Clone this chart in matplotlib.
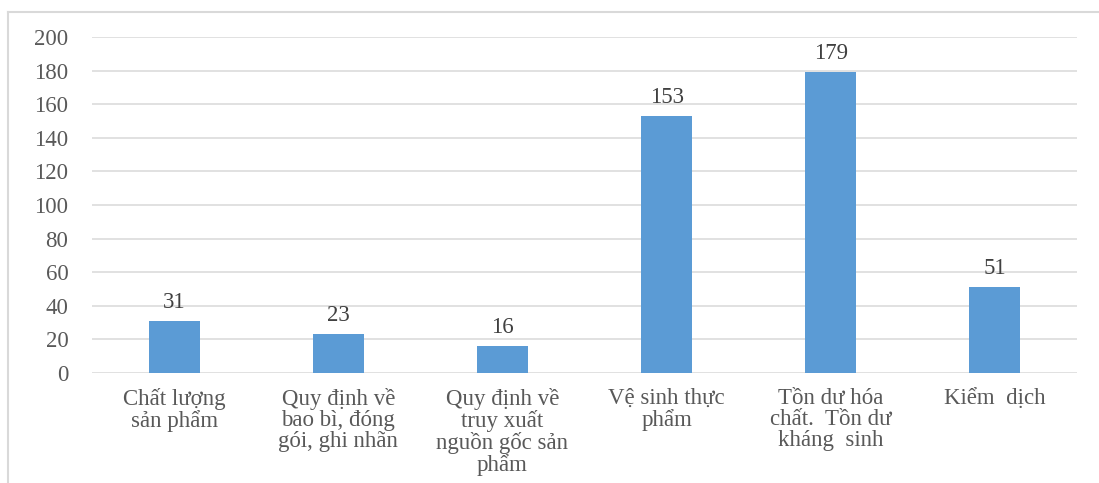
import matplotlib
matplotlib.use("Agg")
import matplotlib.pyplot as plt
from matplotlib.lines import Line2D

categories = [
    "Chất lượng\nsản phẩm",
    "Quy định về\nbao bì, đóng\ngói, ghi nhãn",
    "Quy định về\ntruy xuất\nnguồn gốc sản\nphẩm",
    "Vệ sinh thực\nphẩm",
    "Tồn dư hóa\nchất.  Tồn dư\nkháng  sinh",
    "Kiểm  dịch",
]
values = [31, 23, 16, 153, 179, 51]
y_ticks = [0, 20, 40, 60, 80, 100, 120, 140, 160, 180, 200]

plt.rcParams["font.family"] = ["Liberation Serif", "DejaVu Serif"]

BAR = "#5b9bd5"
GRID = "#d9d9d9"
TXT = "#595959"

fig = plt.figure(figsize=(10.99, 4.83), dpi=100)
ax = fig.add_axes([0.0837, 0.2277, 0.8963, 0.6957])

x = list(range(len(categories)))
bars = ax.bar(x, values, width=0.31, color=BAR, zorder=3)

ax.set_xlim(-0.5, len(categories) - 0.5)
ax.set_ylim(0, 200)
ax.set_yticks(y_ticks)
ax.set_yticklabels([str(t) for t in y_ticks])
ax.set_xticks(x)
ax.set_xticklabels(categories, linespacing=1.0, va="top")

ax.grid(axis="y", color=GRID, linewidth=1.1, zorder=0)
ax.set_axisbelow(True)
for s in ax.spines.values():
    s.set_visible(False)
ax.tick_params(axis="both", length=0, labelsize=16.5, colors=TXT)
ax.tick_params(axis="y", pad=17)
ax.tick_params(axis="x", pad=11)

for rect, v in zip(bars, values):
    ax.annotate(str(v), (rect.get_x() + rect.get_width() / 2, v),
                xytext=(0, 6), textcoords="offset points",
                ha="center", va="bottom", fontsize=16.5, color="#404040")

# thin frame on the left and top edges of the figure
fig.add_artist(Line2D([8 / 1099, 8 / 1099], [0, 1 - 12 / 483],
                      transform=fig.transFigure, color=GRID, linewidth=1.5))
fig.add_artist(Line2D([8 / 1099, 1], [1 - 12 / 483, 1 - 12 / 483],
                      transform=fig.transFigure, color=GRID, linewidth=1.5))

fig.savefig("out.png", dpi=100)
